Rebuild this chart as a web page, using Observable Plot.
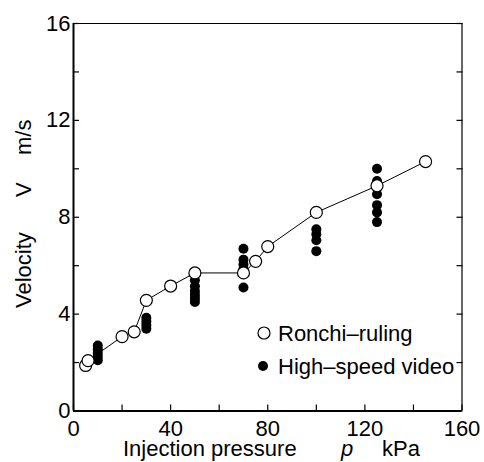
<!DOCTYPE html>
<html><head><meta charset="utf-8">
<script src="https://cdn.jsdelivr.net/npm/d3@7"></script>
<script src="https://cdn.jsdelivr.net/npm/@observablehq/plot@0.6"></script>
<style>
body{margin:0;background:#fff;}
#chart{position:relative;width:484px;height:462px;font-family:"Liberation Sans",Arial,sans-serif;}
</style></head><body><div id="chart"></div>
<script>
// Ronchi-ruling series (open circles, connected)
const ronchiP = [5, 6, 20, 25, 30, 40, 50, 70, 75, 80, 100, 125, 145];
const ronchiV = [1.88, 2.08, 3.07, 3.27, 4.57, 5.16, 5.70, 5.70, 6.18, 6.79, 8.2, 9.3, 10.3];
// High-speed video series (filled dots)
const videoP = [10,10,10,10,10, 30,30,30,30, 50,50,50,50,50,50, 70,70,70,70,70, 100,100,100,100, 125,125,125,125,125,125];
const videoV = [2.1,2.25,2.4,2.55,2.7, 3.4,3.55,3.7,3.85, 4.5,4.65,4.8,4.95,5.15,5.4, 5.1,5.85,6.05,6.25,6.7, 6.6,7.05,7.3,7.5, 7.8,8.2,8.5,8.95,9.5,10.0];
const xDomain = [0, 160];
const yDomain = [0, 16];
const xTicks = [0, 20, 40, 60, 80, 100, 120, 140, 160];
const xLabels = [0, 40, 80, 120, 160];
const yTicks = [0, 2, 4, 6, 8, 10, 12, 14, 16];
const yLabels = [0, 4, 8, 12, 16];
const legendNames = ["Ronchi\u2013ruling", "High\u2013speed video"];

const ronchi = ronchiP.map((p, i) => ({p, v: ronchiV[i]}));
const video = videoP.map((p, i) => ({p, v: videoV[i]}));
const FONT = '"Liberation Sans", Arial, sans-serif';
const blank = () => "";

const plot = Plot.plot({
  width: 484, height: 462,
  marginLeft: 73, marginRight: 22.5, marginTop: 23, marginBottom: 51.5,
  x: {domain: xDomain},
  y: {domain: yDomain},
  style: {fontFamily: FONT, fontSize: "22px", color: "#000", background: "#fff", overflow: "visible"},
  marks: [
    Plot.line(ronchi, {x: "p", y: "v", stroke: "#000", strokeWidth: 1}),
    Plot.dot(video, {x: "p", y: "v", r: 5, fill: "#000", stroke: "none"}),
    Plot.dot(ronchi, {x: "p", y: "v", r: 6, fill: "#fff", stroke: "#000", strokeWidth: 1.2}),
    // frame
    Plot.ruleX([xDomain[0]], {stroke: "#000", strokeWidth: 2}),
    Plot.ruleY([yDomain[0]], {stroke: "#000", strokeWidth: 2}),
    Plot.ruleX([xDomain[1]], {stroke: "#000", strokeWidth: 1.2}),
    Plot.ruleY([yDomain[1]], {stroke: "#000", strokeWidth: 1.2}),
    // inward ticks
    Plot.axisY({anchor: "left", ticks: yTicks, tickSize: 6, dx: 6, tickFormat: blank, label: null, strokeWidth: 1.2}),
    Plot.axisY({anchor: "right", ticks: yTicks, tickSize: 6, dx: -6, tickFormat: blank, label: null, strokeWidth: 1.2}),
    Plot.axisX({anchor: "bottom", ticks: xTicks, tickSize: 6, dy: -6, tickFormat: blank, label: null, strokeWidth: 1.2}),
    // tick labels
    Plot.axisY({anchor: "left", ticks: yLabels, tickSize: 0, tickPadding: 3, label: null, fontSize: 22}),
    Plot.axisX({anchor: "bottom", ticks: xLabels, tickSize: 0, tickPadding: 9, label: null, fontSize: 22})
  ]
});
document.getElementById("chart").appendChild(plot);

const svg = d3.select(plot);
// x axis label
const xl = svg.append("text").attr("y", 456).attr("font-family", FONT).attr("font-size", 22)
  .attr("fill", "#000").attr("text-anchor", "start");
xl.append("tspan").attr("x", 123).text("Injection pressure");
xl.append("tspan").attr("x", 341).attr("font-style", "italic").text("p");
xl.append("tspan").attr("x", 382).text("kPa");
// y axis label
const yl = svg.append("text").attr("transform", "translate(31,308) rotate(-90)")
  .attr("font-family", FONT).attr("font-size", 22).attr("fill", "#000").attr("text-anchor", "start");
yl.append("tspan").attr("x", 0).text("Velocity");
yl.append("tspan").attr("x", 111).text("V");
yl.append("tspan").attr("x", 153).text("m/s");
// legend
const lg = svg.append("g").attr("font-family", FONT).attr("font-size", 22).attr("fill", "#000").attr("text-anchor", "start");
lg.append("circle").attr("cx", 264).attr("cy", 333).attr("r", 6).attr("fill", "#fff").attr("stroke", "#000").attr("stroke-width", 1.2);
lg.append("text").attr("x", 278).attr("y", 341).text(legendNames[0]);
lg.append("circle").attr("cx", 263).attr("cy", 366).attr("r", 5).attr("fill", "#000");
lg.append("text").attr("x", 278).attr("y", 374).text(legendNames[1]);
</script></body></html>
